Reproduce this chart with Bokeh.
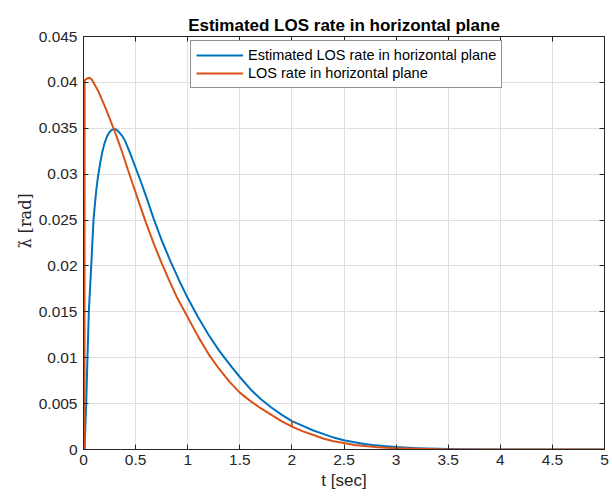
from bokeh.plotting import figure
from bokeh.models import Range1d, FixedTicker, LinearAxis, Legend, LegendItem, Title
from bokeh.embed import file_html
from bokeh.resources import INLINE

# ---------------- data ----------------
t_est = [0, 0.01, 0.026, 0.038, 0.051, 0.074, 0.096, 0.11, 0.125, 0.14, 0.16,
         0.18, 0.2, 0.225, 0.25, 0.27, 0.288, 0.31, 0.33, 0.37, 0.4, 0.45,
         0.5, 0.55, 0.6, 0.675, 0.75, 0.835, 0.915, 1.0, 1.1, 1.2, 1.3, 1.4,
         1.5, 1.6, 1.7, 1.8, 1.9, 2.0, 2.1, 2.2, 2.3, 2.4, 2.5, 2.6, 2.7, 2.8,
         2.9, 3.0, 3.2, 3.4, 3.6, 4.0, 4.5, 5.0]
v_est = [0, 0.0, 0.005, 0.010, 0.015, 0.020, 0.025, 0.0268, 0.0285, 0.0298,
         0.0312, 0.0324, 0.0333, 0.0341, 0.0346, 0.0348, 0.0349, 0.0349,
         0.0347, 0.0342, 0.0336, 0.0322, 0.0307, 0.0292, 0.0276, 0.0251,
         0.0228, 0.0205, 0.0185, 0.0165, 0.0144, 0.0125, 0.0108, 0.0093,
         0.0079, 0.0066, 0.0055, 0.0046, 0.0038, 0.0031, 0.0026, 0.0021,
         0.0017, 0.0013, 0.0010, 0.0008, 0.0006, 0.00045, 0.00035, 0.00026,
         0.00014, 0.00007, 0.00003, 0.00001, 0.0, 0.0]

t_los = [0, 0.01, 0.011, 0.03, 0.058, 0.08, 0.1, 0.144, 0.208, 0.25, 0.288,
         0.33, 0.368, 0.42, 0.464, 0.515, 0.6, 0.675, 0.75, 0.819, 0.9, 1.0,
         1.1, 1.2, 1.3, 1.4, 1.5, 1.6, 1.7, 1.8, 1.9, 2.0, 2.0, 2.0, 2.1, 2.2,
         2.3, 2.4, 2.5, 2.6, 2.7, 2.8, 2.9, 3.0, 3.2, 3.4, 3.6, 4.0, 4.5, 5.0]
v_los = [0, 0.0, 0.0402, 0.0404, 0.0405, 0.0403, 0.0399, 0.0390, 0.0373,
         0.0361, 0.0350, 0.0337, 0.0325, 0.0307, 0.0292, 0.0275, 0.0247,
         0.0224, 0.0203, 0.0185, 0.0165, 0.0144, 0.0123, 0.0104, 0.0088,
         0.0074, 0.0062, 0.0053, 0.0045, 0.0038, 0.0031, 0.0025, 0.0030,
         0.0025, 0.0020, 0.0016, 0.0012, 0.0009, 0.0007, 0.0005, 0.00037,
         0.00027, 0.0002, 0.00014, 0.00007, 0.00003, 0.00001, 0.0, 0.0, 0.0]

x_ticks = [0, 0.5, 1, 1.5, 2, 2.5, 3, 3.5, 4, 4.5, 5]
x_tick_labels = ["0", "0.5", "1", "1.5", "2", "2.5", "3", "3.5", "4", "4.5", "5"]
y_ticks = [0, 0.005, 0.01, 0.015, 0.02, 0.025, 0.03, 0.035, 0.04, 0.045]
y_tick_labels = ["0", "0.005", "0.01", "0.015", "0.02", "0.025", "0.03",
                 "0.035", "0.04", "0.045"]

title_text = "Estimated LOS rate in horizontal plane"
label_est = "Estimated LOS rate in horizontal plane"
label_los = "LOS rate in horizontal plane"
x_label = "t [sec]"
y_label = "\u03bb\u0307 [rad]"

# ---------------- figure ----------------
FONT = "Liberation Sans"
AX = "#262626"

p = figure(width=610, height=499, output_backend="svg", toolbar_location=None,
           x_range=Range1d(0, 5), y_range=Range1d(0, 0.045),
           min_border_left=83, min_border_right=6, min_border_top=36,
           min_border_bottom=50, title=title_text)
p.title.align = "center"
p.title.text_font = FONT
p.title.text_font_size = "17px"
p.title.text_font_style = "bold"
p.title.text_color = "#000000"
p.title.standoff = 4
p.outline_line_color = AX
p.outline_line_width = 1
p.background_fill_color = "white"
p.border_fill_color = "white"

xt = FixedTicker(ticks=x_ticks)
yt = FixedTicker(ticks=y_ticks)

for ax in (p.xaxis[0], p.yaxis[0]):
    ax.axis_line_color = AX
    ax.major_tick_line_color = AX
    ax.major_tick_in = 5
    ax.major_tick_out = 0
    ax.minor_tick_line_color = None
    ax.major_label_text_font = FONT
    ax.major_label_text_font_size = "15.5px"
    ax.major_label_text_color = AX
    ax.axis_label_text_font_style = "normal"

p.xaxis[0].ticker = xt
p.yaxis[0].ticker = yt
p.xaxis[0].major_label_overrides = dict(zip(x_ticks, x_tick_labels))
p.yaxis[0].major_label_overrides = dict(zip(y_ticks, y_tick_labels))
p.xaxis[0].major_label_standoff = 5
p.yaxis[0].major_label_standoff = 6
p.xaxis[0].axis_label = x_label
p.xaxis[0].axis_label_text_font = FONT
p.xaxis[0].axis_label_text_font_size = "17px"
p.xaxis[0].axis_label_text_color = AX
p.xaxis[0].axis_label_standoff = 3

# y-axis label as a side title (allows shifting it along the axis)
ytitle = Title(text=y_label, align="left", offset=201, standoff=2,
               text_font="DejaVu Serif", text_font_size="16px",
               text_font_style="normal", text_color=AX)
p.add_layout(ytitle, "left")

top_ax = LinearAxis(ticker=xt, major_tick_in=5, major_tick_out=0,
                    major_label_text_font_size="0px", major_label_standoff=0,
                    axis_line_color=AX, major_tick_line_color=AX,
                    minor_tick_line_color=None)
top_ax.major_label_overrides = {v: "" for v in x_ticks}
right_ax = LinearAxis(ticker=yt, major_tick_in=5, major_tick_out=0,
                      major_label_text_font_size="0px", major_label_standoff=0,
                      axis_line_color=AX, major_tick_line_color=AX,
                      minor_tick_line_color=None)
right_ax.major_label_overrides = {v: "" for v in y_ticks}
p.add_layout(top_ax, "above")
p.add_layout(right_ax, "right")

p.xgrid.ticker = xt
p.ygrid.ticker = yt
p.grid.grid_line_color = "#dfdfdf"
p.grid.grid_line_width = 1

r_est = p.line(t_est, v_est, line_color="#0072BD", line_width=2,
               line_join="round")
r_los = p.line(t_los, v_los, line_color="#D95319", line_width=2,
               line_join="round")

legend = Legend(items=[LegendItem(label=label_est, renderers=[r_est]),
                       LegendItem(label=label_los, renderers=[r_los])],
                location=(107, 361))
legend.label_text_font = FONT
legend.label_text_font_size = "14.5px"
legend.label_text_color = "#000000"
legend.glyph_width = 47
legend.glyph_height = 18
legend.label_height = 18
legend.label_standoff = 5
legend.spacing = 0
legend.padding = 5
legend.margin = 0
legend.border_line_color = AX
legend.border_line_width = 1
legend.background_fill_color = "white"
legend.background_fill_alpha = 1
p.add_layout(legend, "center")

open("out.html", "w").write(file_html(p, INLINE))
